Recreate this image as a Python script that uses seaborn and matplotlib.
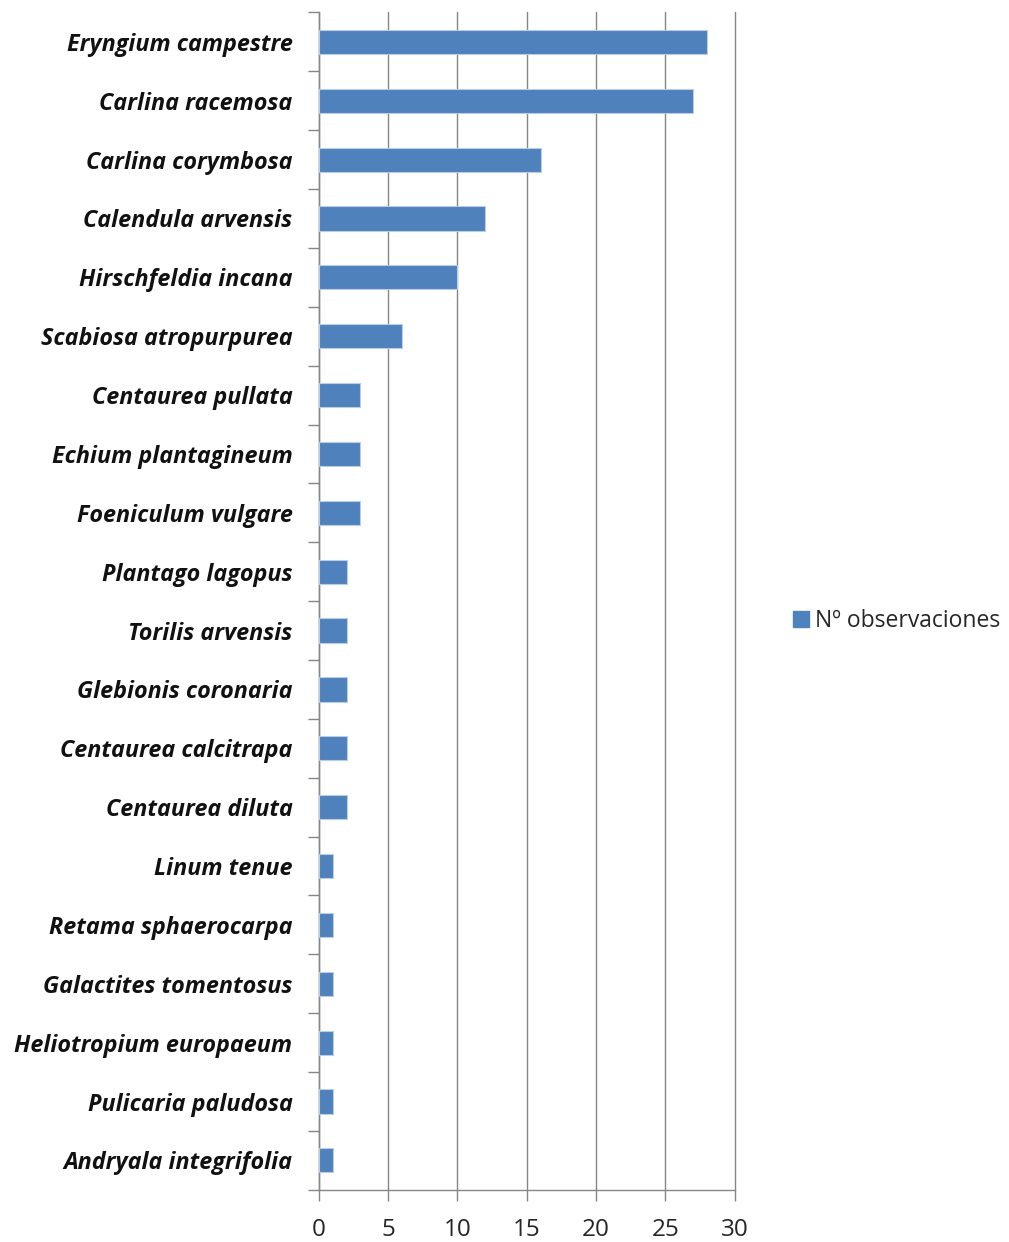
import pandas as pd
import numpy as np
import matplotlib
matplotlib.use("Agg")
import matplotlib.pyplot as plt
import seaborn as sns
from matplotlib.patches import Patch

# -----------------------------
# Data
# -----------------------------
species = [
    "Eryngium campestre", "Carlina racemosa", "Carlina corymbosa",
    "Calendula arvensis", "Hirschfeldia incana", "Scabiosa atropurpurea",
    "Centaurea pullata", "Echium plantagineum", "Foeniculum vulgare",
    "Plantago lagopus", "Torilis arvensis", "Glebionis coronaria",
    "Centaurea calcitrapa", "Centaurea diluta", "Linum tenue",
    "Retama sphaerocarpa", "Galactites tomentosus", "Heliotropium europaeum",
    "Pulicaria paludosa", "Andryala integrifolia",
]
observaciones = [28, 27, 16, 12, 10, 6, 3, 3, 3, 2, 2, 2, 2, 2, 1, 1, 1, 1, 1, 1]
legend_label = "Nº observaciones"

df = pd.DataFrame({"especie": species, "n": observaciones})

# -----------------------------
# Plot
# -----------------------------
sns.set_style("white")
plt.rcParams['font.family'] = ['Open Sans', 'DejaVu Sans']

bar_color = "#4F81BD"
grid_color = "#868686"

fig = plt.figure(figsize=(10.09, 12.42), dpi=100)
ax = fig.add_axes([0.316, 0.042, 0.412, 0.948])

sns.barplot(data=df, x="n", y="especie", orient="h", color=bar_color,
            saturation=1, width=0.41, edgecolor="#B9CDE5", linewidth=0.8,
            ax=ax, zorder=3)

ax.set_xlim(0, 30)
ax.set_ylim(len(species) - 0.5, -0.5)
ax.set_xticks(range(0, 31, 5))
ax.xaxis.grid(True, color=grid_color, linewidth=1.0, zorder=0)
ax.yaxis.grid(False)
ax.set_axisbelow(True)
for gl in ax.get_xgridlines():
    gl.set_clip_on(False)

for s in ["top", "right"]:
    ax.spines[s].set_visible(False)
for s in ["left", "bottom"]:
    ax.spines[s].set_color(grid_color)
    ax.spines[s].set_linewidth(1.0)

# category boundary ticks on y
ax.set_yticks(np.arange(-0.5, len(species), 1.0), minor=True)
ax.tick_params(axis="y", which="minor", left=True, length=8, color=grid_color,
               width=1, direction="out")
ax.tick_params(axis="y", which="major", left=True, length=0, pad=19)
ax.tick_params(axis="x", which="major", bottom=True, length=8, color=grid_color,
               width=1, direction="out", labelsize=17.5, pad=12)

for lab in ax.get_yticklabels():
    lab.set_fontstyle("italic")
    lab.set_fontweight("bold")
    lab.set_fontsize(16.8)
    lab.set_color("#111111")

ax.set_xlabel("")
ax.set_ylabel("")

handle = Patch(facecolor=bar_color, edgecolor=bar_color)
fig.legend([handle], [legend_label], loc="center left",
           bbox_to_anchor=(0.765, 0.5), frameon=False, fontsize=16.5,
           handlelength=0.7, handleheight=0.7, handletextpad=0.3)

fig.savefig("out.png", dpi=100)
